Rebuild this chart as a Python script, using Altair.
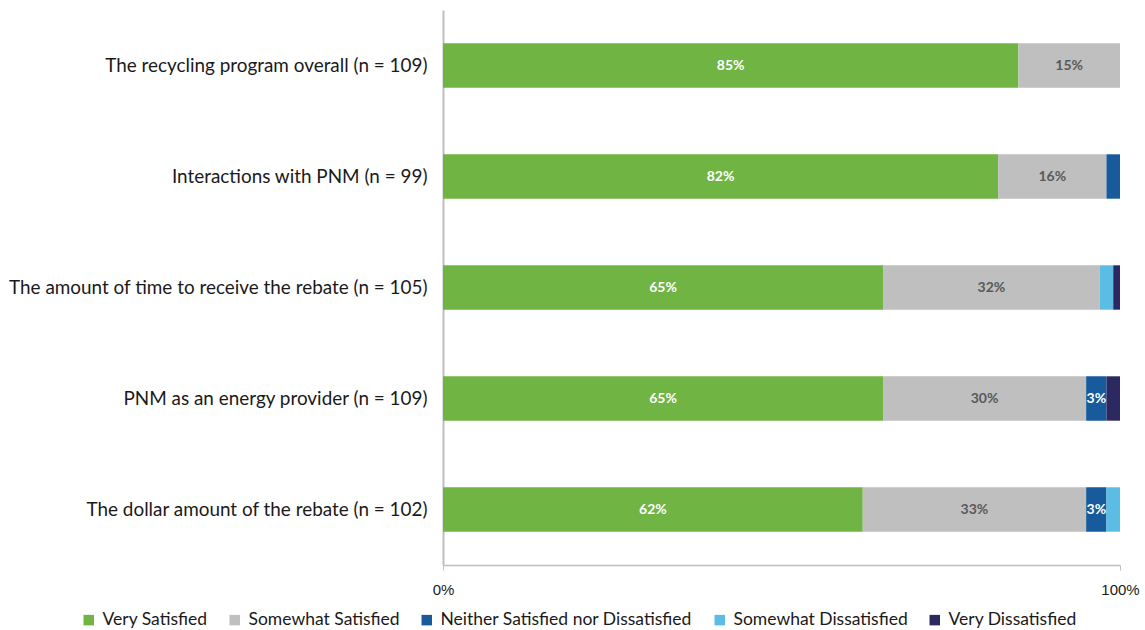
import altair as alt
import pandas as pd

categories = [
    "The recycling program overall (n = 109)",
    "Interactions with PNM (n = 99)",
    "The amount of time to receive the rebate (n = 105)",
    "PNM as an energy provider (n = 109)",
    "The dollar amount of the rebate (n = 102)",
]
levels = [
    "Very Satisfied",
    "Somewhat Satisfied",
    "Neither Satisfied nor Dissatisfied",
    "Somewhat Dissatisfied",
    "Very Dissatisfied",
]
very_satisfied = [85, 82, 65, 65, 62]
somewhat_satisfied = [15, 16, 32, 30, 33]
neither = [0, 2, 0, 3, 3]
somewhat_dissatisfied = [0, 0, 2, 0, 2]
very_dissatisfied = [0, 0, 1, 2, 0]

colors = ["#70b443", "#bfbfbf", "#175b9c", "#5bbde3", "#2b2960"]
label_colors = ["#ffffff", "#595959", "#ffffff", "#ffffff", "#ffffff"]

series = [very_satisfied, somewhat_satisfied, neither, somewhat_dissatisfied, very_dissatisfied]
rows = []
for ci, cat in enumerate(categories):
    start = 0.0
    for li, lev in enumerate(levels):
        v = series[li][ci]
        rows.append({
            "category": cat,
            "level": lev,
            "order": li,
            "value": v,
            "start": start / 100.0,
            "end": (start + v) / 100.0,
            "mid": (start + v / 2.0) / 100.0,
            "label": f"{v}%" if v >= 3 else "",
            "lcolor": label_colors[li],
        })
        start += v
df = pd.DataFrame(rows)

yenc = alt.Y(
    "category:N",
    sort=categories,
    scale=alt.Scale(paddingInner=0.6, paddingOuter=0.3),
    axis=alt.Axis(
        title=None,
        labelFont="Lato",
        labelFontSize=18.9,
        labelColor="#1a1a1a",
        labelPadding=16,
        labelLimit=460,
        ticks=False,
        domainColor="#bfbfbf",
        domainWidth=2,
    ),
)

xscale = alt.Scale(domain=[0, 1], nice=False)

bars = alt.Chart(df).mark_bar().encode(
    y=yenc,
    x=alt.X(
        "start:Q",
        scale=xscale,
        axis=alt.Axis(
            title=None,
            values=[0, 1],
            format="%",
            labelFont="Liberation Sans",
            labelFontSize=15,
            labelColor="#1a1a1a",
            labelPadding=12,
            grid=False,
            tickSize=5,
            tickColor="#bfbfbf",
            domainColor="#bfbfbf",
            domainWidth=1.5,
            labelFlush=False,
        ),
    ),
    x2="end:Q",
    color=alt.Color(
        "level:N",
        sort=levels,
        scale=alt.Scale(domain=levels, range=colors),
        legend=alt.Legend(
            title=None,
            orient="none",
            legendX=-363,
            legendY=601,
            direction="horizontal",
            columns=5,
            symbolType="square",
            symbolSize=110,
            symbolStrokeWidth=0,
            labelFont="Lato",
            labelFontSize=17.5,
            labelColor="#1a1a1a",
            columnPadding=18,
            labelOffset=5,
            labelLimit=400,
        ),
    ),
    order="order:Q",
)

texts = alt.Chart(df).mark_text(
    font="Lato", fontSize=14, fontWeight="bold", baseline="middle", align="center"
).encode(
    y=alt.Y("category:N", sort=categories),
    x=alt.X("mid:Q", scale=xscale),
    text="label:N",
    color=alt.Color("lcolor:N", scale=None),
)

chart = alt.layer(bars, texts).properties(
    width=677,
    height=555,
    padding={"left": 443, "top": 10, "right": 25, "bottom": 65},
    autosize=alt.AutoSizeParams(type="none"),
    background="white",
).configure_view(stroke=None)

chart.save("out.html", embed_options={"renderer": "svg", "actions": False})
